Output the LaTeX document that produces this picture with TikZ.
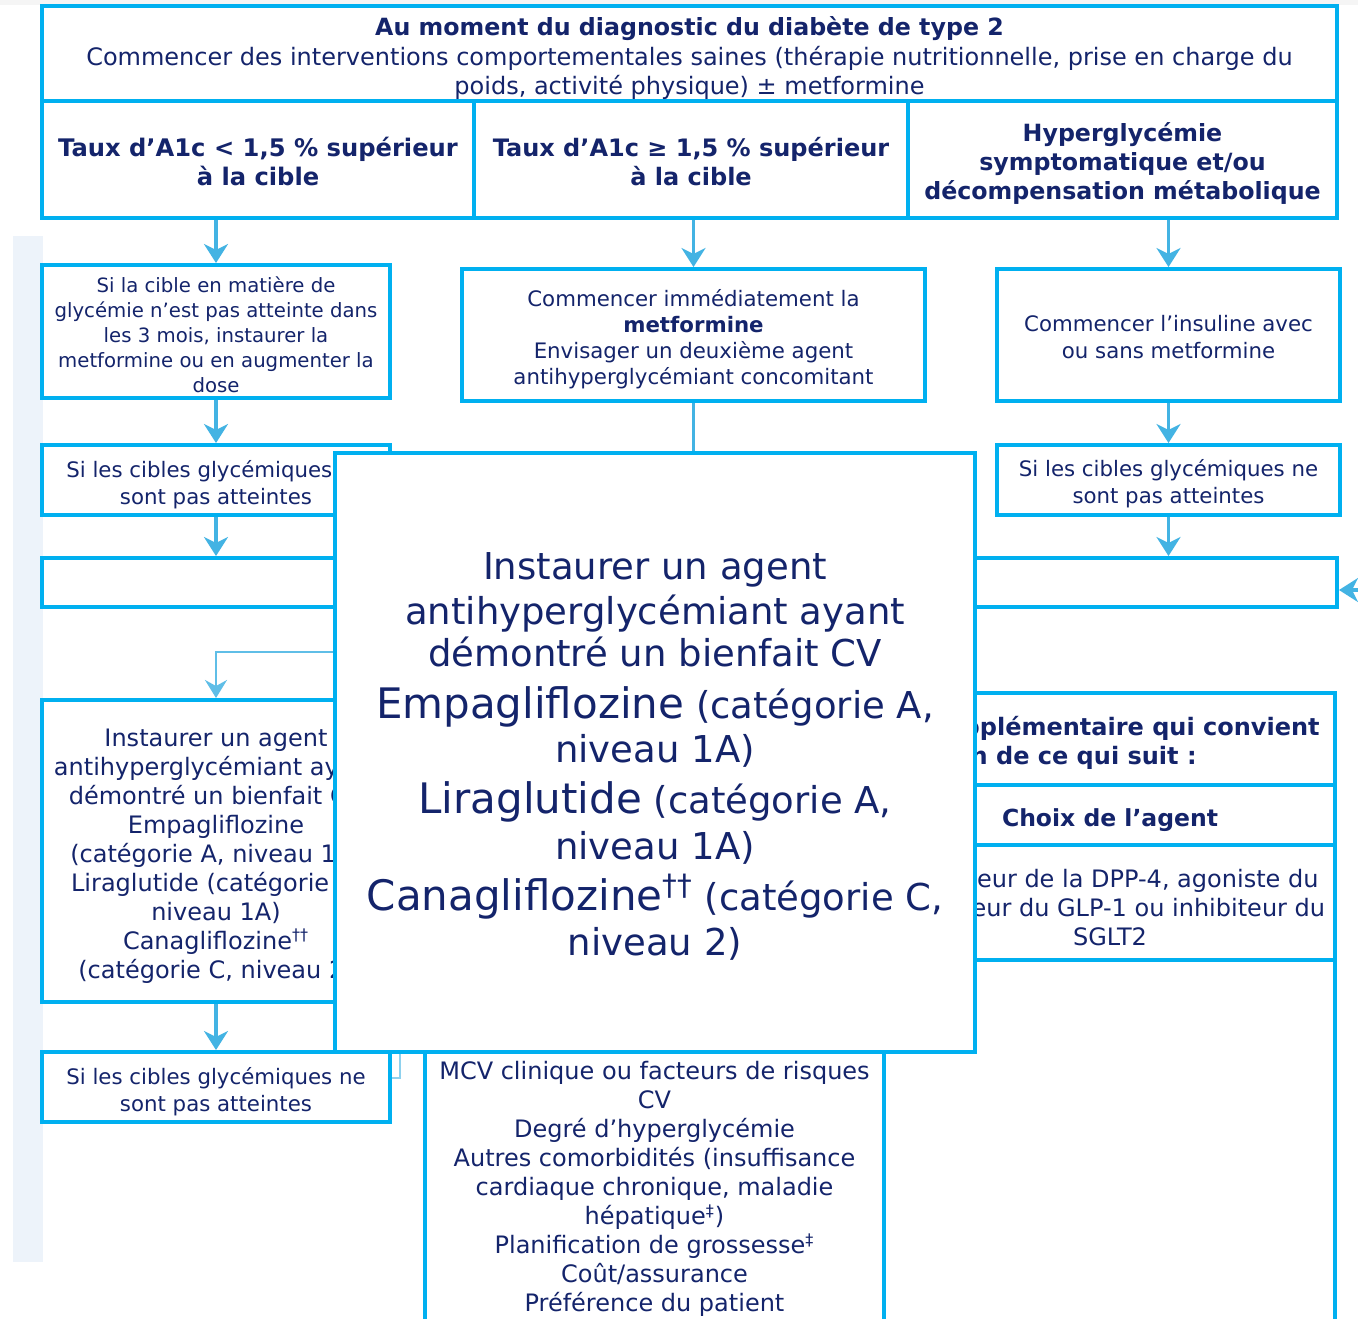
\documentclass[tikz,border=0pt]{standalone}
\usepackage{fontspec}
\setmainfont{DejaVu Sans}
\usetikzlibrary{arrows.meta}
\definecolor{bord}{HTML}{00B0F0}
\definecolor{arrc}{HTML}{43B3E3}
\definecolor{navy}{HTML}{14246B}
\definecolor{stripc}{HTML}{EDF3FA}
\newcommand\fsz[2]{\fontsize{#1}{#2}\selectfont}
% centred lines, dropped a little so the visual centre sits on the box centre
\newcommand\mlines[2][2.75pt]{\raisebox{-#1}[\height][\depth]{\begin{tabular}{@{}c@{}}#2\end{tabular}}}
% box from corner (x1,y1) to corner (x2,y2), in pixels
\newcommand\bx[7]{\node[box,#1,minimum width={(#5-#3)*0.5pt},minimum height={(#6-#4)*0.5pt}] (#2) at ({(#3+#5)/2},{(#4+#6)/2}) {#7};}
\begin{document}
\begin{tikzpicture}[x=0.5pt,y=-0.5pt,
  box/.style={draw=bord,line width=2pt,fill=white,inner sep=0pt,text=navy,anchor=center},
  txt/.style={inner sep=0pt,text=navy},
  arr/.style={draw=arrc,line width=1.6pt,-{Stealth[length=9.5pt,width=12pt,inset=3pt]}},
  elb/.style={draw=arrc!85,line width=1.2pt,-{Stealth[length=9pt,width=11pt,inset=3pt]}},
  conn/.style={draw=arrc,line width=1.6pt},
  stubl/.style={draw=arrc!60,line width=1.2pt}]
\useasboundingbox (0,0) rectangle (1358,1318);
\clip (0,0) rectangle (1358,1318);
\fill[white] (0,0) rectangle (1358,1318);
\fill[gray!8] (0,0) rectangle (1358,5);
\fill[stripc] (13,236) rectangle (43,1262);

% header and row 2
\bx{font=\fsz{12}{14.75}}{hdr}{42}{6}{1337}{101}{\mlines[3pt]{{\bfseries\fsz{11.85}{14.75}Au moment du diagnostic du diabète de type 2}\\Commencer des interventions comportementales saines (thérapie nutritionnelle, prise en charge du\\poids, activité physique) ± metformine}}
\bx{font=\bfseries\fsz{12.1}{14.5}}{ra}{42}{101}{474}{218}{\mlines[3pt]{Taux d’A1c < 1,5 \% supérieur\\à la cible}}
\bx{font=\bfseries\fsz{12}{14.5}}{rb}{474}{101}{908}{218}{\mlines[3pt]{Taux d’A1c ≥ 1,5 \% supérieur\\à la cible}}
\bx{font=\bfseries\fsz{11.85}{14.5}}{rc}{908}{101}{1337}{218}{\mlines{Hyperglycémie\\symptomatique et/ou\\décompensation métabolique}}

% left column
\bx{font=\fsz{9.85}{12.5}}{L1}{42}{265}{390}{398}{\mlines{Si la cible en matière de\\glycémie n’est pas atteinte dans\\les 3 mois, instaurer la\\metformine ou en augmenter la\\dose}}
\bx{font=\fsz{10.65}{13.5}}{L2}{42}{445}{390}{515}{\mlines{Si les cibles glycémiques ne\\sont pas atteintes}}
\bx{}{W}{42}{558}{1337}{607}{}
\bx{font=\fsz{12}{14.5}}{L3}{42}{700}{390}{1002}{\mlines[2.9pt]{Instaurer un agent\\antihyperglycémiant ayant\\démontré un bienfait CV\\Empagliflozine\\(catégorie A, niveau 1A)\\Liraglutide (catégorie A,\\niveau 1A)\\Canagliflozine\textsuperscript{††}\\(catégorie C, niveau 2)}}
\bx{font=\fsz{10.65}{13.5}}{L4}{42}{1052}{390}{1122}{\mlines{Si les cibles glycémiques ne\\sont pas atteintes}}

% middle column
\bx{font=\fsz{10.65}{13}}{M1}{462}{269}{925}{401}{\mlines[2.5pt]{Commencer immédiatement la\\\textbf{metformine}\\Envisager un deuxième agent\\antihyperglycémiant concomitant}}
\bx{font=\fsz{12}{14.5}}{M2}{425}{1030}{884}{1340}{\mlines[2.5pt]{MCV clinique ou facteurs de risques\\CV\\Degré d’hyperglycémie\\Autres comorbidités (insuffisance\\cardiaque chronique, maladie\\hépatique\textsuperscript{‡})\\Planification de grossesse\textsuperscript{‡}\\Coût/assurance\\Préférence du patient}}

% right column
\bx{font=\fsz{10.65}{13.5}}{R1}{997}{269}{1340}{401}{\mlines[2.5pt]{Commencer l’insuline avec\\ou sans metformine}}
\bx{font=\fsz{10.65}{13.5}}{R2}{997}{445}{1340}{515}{\mlines[2.5pt]{Si les cibles glycémiques ne\\sont pas atteintes}}
\bx{}{RC1}{885}{693}{1335}{785}{}
\bx{font=\bfseries\fsz{11.75}{14.5}}{RC2}{885}{785}{1335}{845}{\mlines[3pt]{Choix de l’agent}}
\bx{font=\fsz{12}{14.5}}{RC3}{885}{845}{1335}{960}{\mlines[4pt]{Inhibiteur de la DPP-4, agoniste du\\récepteur du GLP-1 ou inhibiteur du\\SGLT2}}
\bx{}{RC4}{884}{960}{1335}{1340}{}
\node[txt, font=\bfseries\fsz{12}{14.5}, anchor=base east] (rc1a) at (1320,735) {supplémentaire qui convient};
\node[txt, font=\bfseries\fsz{12}{14.5}, anchor=base east] (rc1b) at (1197,764) {en fonction de ce qui suit :};

% connectors
\draw[arr] (L1.north |- ra.south) -- (L1.north);
\draw[arr] (M1.north |- rb.south) -- (M1.north);
\draw[arr] (R1.north |- rc.south) -- (R1.north);
\draw[arr] (L1.south) -- (L2.north);
\draw[arr] (R1.south) -- (R2.north);
\draw[arr] (L2.south) -- (L2.south |- W.north);
\draw[arr] (R2.south) -- (R2.south |- W.north);
\draw[arr] (L3.south) -- (L4.north);
\coordinate (elbk) at (215,652);
\draw[elb] (W.south) |- (L3.north |- elbk) -- (L3.north);
\coordinate (mdown) at (693,470);
\draw[conn] (M1.south) -- (M1.south |- mdown);
\coordinate (s1) at (400,1052);
\coordinate (s2) at (400,1078);
\draw[stubl] (s1) -- (s2) -- (L4.east |- s2);

% big overlay box
\bx{font=\fsz{18.5}{22.5}}{B}{335}{453}{975}{1052}{\mlines[3pt]{Instaurer un agent\\antihyperglycémiant ayant\\[-1.5pt]démontré un bienfait CV\\[3pt]{\fsz{21}{22.5}Empagliflozine} (catégorie A,\\[-0.5pt]niveau 1A)\\[3pt]{\fsz{21}{22.5}Liraglutide} (catégorie A,\\[0.5pt]niveau 1A)\\[0.5pt]{\fsz{21}{22.5}Canagliflozine\textsuperscript{††}} (catégorie C,\\niveau 2)}}

% incoming arrow from right
\coordinate (rin) at (1400,590);
\draw[arr] (rin) -- (W.east |- rin);
\end{tikzpicture}
\end{document}
